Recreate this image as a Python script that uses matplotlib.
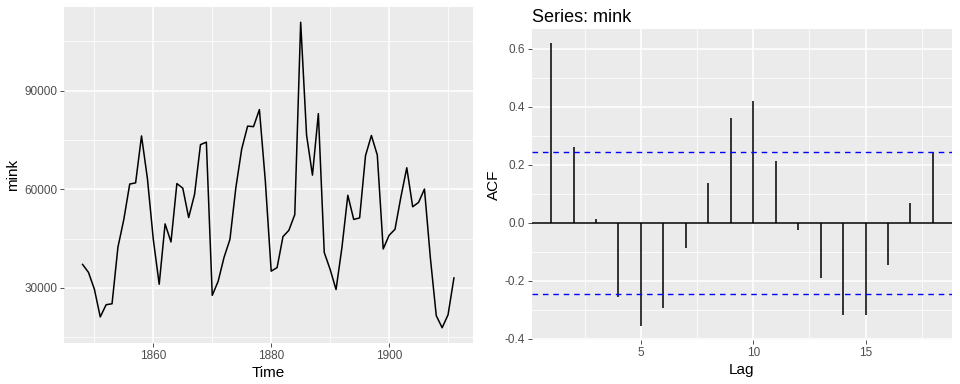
import matplotlib
matplotlib.use("Agg")
import matplotlib.pyplot as plt
from matplotlib.ticker import MultipleLocator, FixedLocator
import numpy as np

plt.rcParams['font.family'] = ['Liberation Sans', 'DejaVu Sans']

years = list(range(1848, 1912))
mink = [37123, 34712, 29619, 21151, 24859, 25152, 42375, 50839, 61581, 61951,
        76231, 63264, 44730, 31094, 49452, 43961, 61727, 60334, 51404, 58451,
        73575, 74343, 27708, 31985, 39266, 44740, 60429, 72273, 79214, 79060,
        84244, 62590, 35072, 36160, 45600, 47508, 52290, 110824, 76503, 64303,
        83023, 40748, 35596, 29479, 42264, 58171, 50815, 51285, 70229, 76365,
        70407, 41839, 45978, 47813, 57620, 66549, 54673, 55996, 60053, 39169,
        21534, 17857, 21788, 33008]

lags = list(range(1, 19))
acf = [0.62, 0.262, 0.015, -0.255, -0.355, -0.292, -0.085, 0.136, 0.362, 0.42,
       0.212, -0.025, -0.19, -0.318, -0.318, -0.145, 0.068, 0.244]
ci = 1.96 / np.sqrt(len(mink))

BG = '#EBEBEB'
TICKC = '#4D4D4D'

fig = plt.figure(figsize=(9.6, 3.84), dpi=100)
ax1 = fig.add_axes([64/960, 1-343/384, (472.5-64)/960, (343-7)/384])
ax2 = fig.add_axes([532/960, 1-340/384, (952-532)/960, (340-29)/384])

def style(ax):
    ax.set_facecolor(BG)
    for s in ax.spines.values():
        s.set_visible(False)
    ax.grid(which='major', color='white', lw=1.1)
    ax.grid(which='minor', color='white', lw=0.55)
    ax.set_axisbelow(True)
    ax.tick_params(which='major', length=3, width=0.6, color='#333333',
                   labelcolor=TICKC, labelsize=8.5, pad=2)
    ax.tick_params(which='minor', length=0)

# left: time series
style(ax1)
ax1.plot(years, mink, color='black', lw=1.1)
xr = years[-1] - years[0]
ax1.set_xlim(years[0] - 0.05*xr, years[-1] + 0.05*xr)
yr = max(mink) - min(mink)
ax1.set_ylim(min(mink) - 0.05*yr, max(mink) + 0.05*yr)
ax1.xaxis.set_major_locator(FixedLocator([1860, 1880, 1900]))
ax1.xaxis.set_minor_locator(FixedLocator([1850, 1870, 1890, 1910]))
ax1.yaxis.set_major_locator(FixedLocator([30000, 60000, 90000]))
ax1.yaxis.set_minor_locator(FixedLocator([15000, 45000, 75000, 105000]))
ax1.set_xlabel('Time', fontsize=11, labelpad=3)
ax1.set_ylabel('mink', fontsize=11, labelpad=3)

# right: ACF
style(ax2)
ax2.vlines(lags, 0, acf, color='black', lw=1.1)
ax2.axhline(0, color='black', lw=1.1)
ax2.axhline(ci, color='blue', lw=1.0, ls=(0, (4, 3.5)))
ax2.axhline(-ci, color='blue', lw=1.0, ls=(0, (4, 3.5)))
lr = lags[-1] - lags[0]
ax2.set_xlim(lags[0] - 0.05*lr, lags[-1] + 0.05*lr)
lo = min(min(acf), -ci, 0)
hi = max(max(acf), ci, 0)
ar = hi - lo
ax2.set_ylim(lo - 0.05*ar, hi + 0.05*ar)
ax2.xaxis.set_major_locator(FixedLocator([5, 10, 15]))
ax2.xaxis.set_minor_locator(FixedLocator([2.5, 7.5, 12.5, 17.5]))
ax2.yaxis.set_major_locator(FixedLocator([-0.4, -0.2, 0.0, 0.2, 0.4, 0.6]))
ax2.yaxis.set_minor_locator(FixedLocator([-0.3, -0.1, 0.1, 0.3, 0.5]))
ax2.set_yticklabels(['-0.4', '-0.2', '0.0', '0.2', '0.4', '0.6'])
ax2.set_xlabel('Lag', fontsize=11, labelpad=3)
ax2.set_ylabel('ACF', fontsize=11, labelpad=3)
ax2.set_title('Series: mink', fontsize=13, loc='left', pad=5)

fig.savefig('out.png', dpi=100)
